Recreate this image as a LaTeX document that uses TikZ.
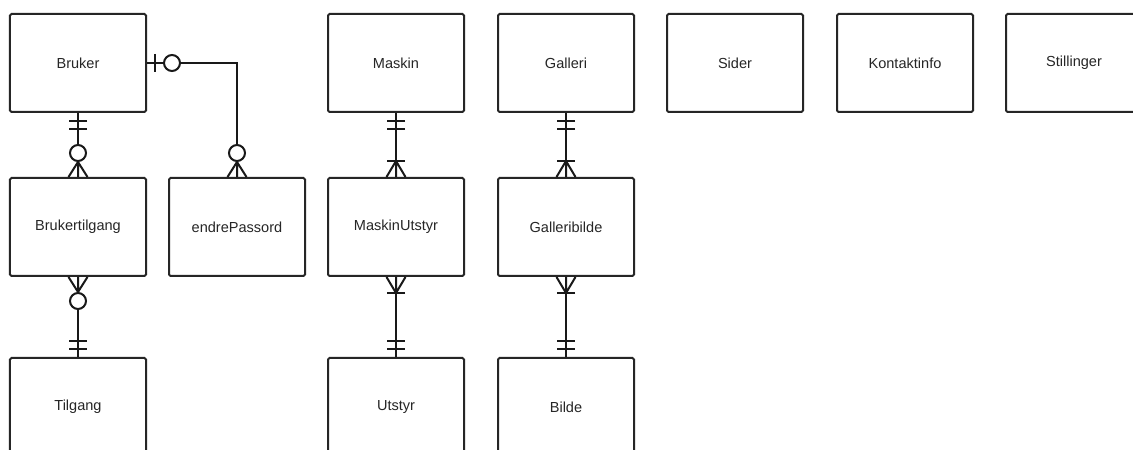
\documentclass[tikz,border=0pt]{standalone}
\usepackage{fontspec}
\newfontfamily\erfont{Liberation Sans}
\begin{document}
\begin{tikzpicture}[x=1bp,y=-1bp,
  ent/.style={draw=black!85, line width=2bp, rounded corners=1.5bp,
    minimum width=136bp, minimum height=98bp, inner sep=0pt,
    text=black!85, font=\erfont\fontsize{14.6}{17}\selectfont},
  link/.style={draw=black!90, line width=2bp},
  % cardinality marks, local +x points away from the entity
  pics/onlyone/.style={code={
    \draw[link] (8,-9)--(8,9) (16,-9)--(16,9);}},
  pics/zeroone/.style={code={
    \draw[link] (8,-9)--(8,9);
    \draw[link,fill=white] (25,0) circle[radius=8];}},
  pics/zeromany/.style={code={
    \draw[link] (0,-9.5)--(15,0)--(0,9.5) (0,0)--(15,0);
    \draw[link,fill=white] (24,0) circle[radius=8];}},
  pics/onemany/.style={code={
    \draw[link] (0,-9.5)--(16,0)--(0,9.5) (0,0)--(16,0);
    \draw[link] (16,-9)--(16,9);}}
]
\useasboundingbox (0,0) rectangle (1133,450);
\clip (0,0) rectangle (1133,450);
\fill[white] (0,0) rectangle (1133,450);

% entities
\node[ent] (bruker)        at (78,63)    {Bruker};
\node[ent] (brukertilgang) at (78,227)   {Brukertilgang};
\node[ent] (tilgang)       at (78,407)   {Tilgang};
\node[ent] (endre)         at (237,227)  {endrePassord};
\node[ent] (maskin)        at (396,63)   {Maskin};
\node[ent] (maskinutstyr)  at (396,227)  {MaskinUtstyr};
\node[ent] (utstyr)        at (396,407)  {Utstyr};
\node[ent] (galleri)       at (566,63)   {Galleri};
\node[ent] (galleribilde)  at (566,227)  {Galleribilde};
\node[ent] (bilde)         at (566,407)  {Bilde};
\node[ent] (sider)         at (735,63)   {Sider};
\node[ent] (kontakt)       at (905,63)   {Kontaktinfo};
\node[ent] (stillinger)    at (1074,63)  {Stillinger};

% relationships
\draw[link] (bruker.south) -- (brukertilgang.north);
\draw[link] (bruker.east) -| (endre.north);
\draw[link] (brukertilgang.south) -- (tilgang.north);
\draw[link] (maskin.south) -- (maskinutstyr.north);
\draw[link] (maskinutstyr.south) -- (utstyr.north);
\draw[link] (galleri.south) -- (galleribilde.north);
\draw[link] (galleribilde.south) -- (bilde.north);

% cardinality marks
\pic[rotate=-90] at (bruker.south) {onlyone};
\pic[rotate=90]  at (brukertilgang.north) {zeromany};
\pic at (bruker.east) {zeroone};
\pic[rotate=90]  at (endre.north) {zeromany};
\pic[rotate=-90] at (brukertilgang.south) {zeromany};
\pic[rotate=90]  at (tilgang.north) {onlyone};
\pic[rotate=-90] at (maskin.south) {onlyone};
\pic[rotate=90]  at (maskinutstyr.north) {onemany};
\pic[rotate=-90] at (maskinutstyr.south) {onemany};
\pic[rotate=90]  at (utstyr.north) {onlyone};
\pic[rotate=-90] at (galleri.south) {onlyone};
\pic[rotate=90]  at (galleribilde.north) {onemany};
\pic[rotate=-90] at (galleribilde.south) {onemany};
\pic[rotate=90]  at (bilde.north) {onlyone};
\end{tikzpicture}
\end{document}
